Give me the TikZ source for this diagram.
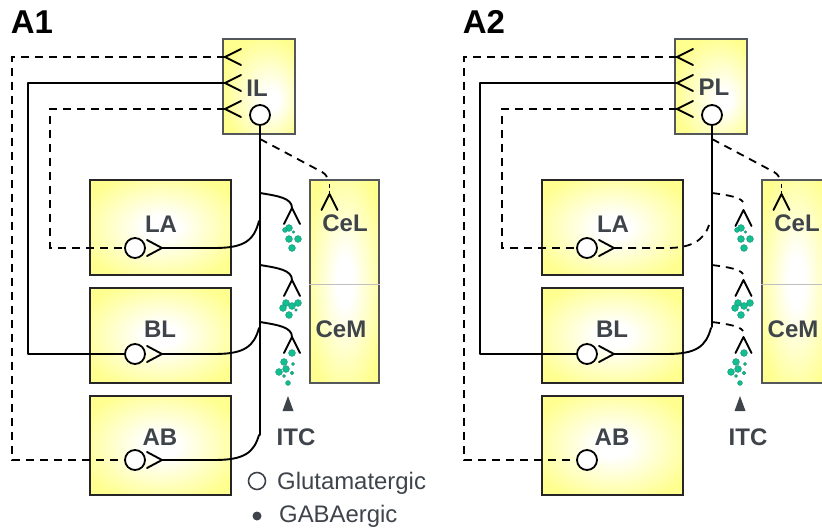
\documentclass[tikz,border=0pt]{standalone}
\usepackage{fontspec}
\setmainfont{Liberation Sans}
\definecolor{boxyel}{HTML}{FFFF8F}
\definecolor{labgray}{HTML}{3F444B}
\definecolor{edgegray}{HTML}{55585A}
\definecolor{dotfill}{HTML}{10C090}
\definecolor{dotedge}{HTML}{1A9078}
\pgfdeclareradialshading{boxglow}{\pgfpoint{0bp}{0bp}}{color(0bp)=(white); color(6bp)=(white); color(30bp)=(boxyel); color(50bp)=(boxyel)}
\pgfdeclareradialshading{boxglowoff}{\pgfpoint{10bp}{-8bp}}{color(0bp)=(white); color(5bp)=(white); color(30bp)=(boxyel); color(50bp)=(boxyel)}
\tikzset{
  axon/.style={line width=1.9pt,black,line cap=round,line join=round},
  dashaxon/.style={line width=1.8pt,black,dash pattern=on 8pt off 6pt},
  region/.style={draw=black!85,line width=1.9pt,shading=boxglow,inner sep=0pt},
  cortex/.style={draw=edgegray,line width=1.9pt,shading=boxglowoff,inner sep=0pt},
  cell/.style={circle,draw=black,line width=1.8pt,fill=white,minimum size=20pt,inner sep=0pt},
  lab/.style={text=labgray,font=\fontsize{24}{24}\selectfont\bfseries,inner sep=0pt},
  paneltitle/.style={text=black,font=\fontsize{33}{33}\selectfont\bfseries,inner sep=0pt},
  legend/.style={text=labgray,font=\fontsize{23.9}{24}\selectfont,inner sep=0pt,anchor=base west},
  forkleft/.pic={\draw[axon] (16,-8) -- (0,0) -- (16,8);},
  forkright/.pic={\draw[axon] (-15,-8) -- (0,0) -- (-15,8);},
  forkdown/.pic={\draw[axon] (-8,16) -- (0,0) -- (8,16);},
}
\newcommand{\tdots}[1]{\foreach \x/\y/\r in {#1}{\fill[dotfill,draw=dotedge,line width=.5pt] (\x,\y) circle (\r pt);}}
\newcommand{\panelbase}{%
  \node[region,minimum width=141pt,minimum height=95pt] (la) at (160.5,227.5) {};
  \node[region,minimum width=141pt,minimum height=95pt] (bl) at (160.5,335.5) {};
  \node[region,minimum width=141pt,minimum height=99pt] (ab) at (160.5,445.5) {};
  \node[cortex,minimum width=72pt,minimum height=95pt] (ctx) at (259,86.5) {};
  \node[cortex,minimum width=69pt,minimum height=203pt,shading=boxglow] (ce) at (344.5,281.5) {};
  \draw[draw=black!25,line width=.7pt] (ce.west |- 0,284) -- (ce.east |- 0,284);
  \node[cell] (lac) at (135,248) {};
  \node[cell] (blc) at (135,354) {};
  \node[cell] (abc) at (135,460) {};
  \node[cell] (ctxc) at (260,115) {};
  \coordinate (f1) at (225,57);
  \coordinate (f2) at (225,83);
  \coordinate (f3) at (225,109);
  \path (f1) pic {forkleft} (f2) pic {forkleft} (f3) pic {forkleft};
  \coordinate (ceapex) at (329.5,194);
  \path (ceapex) pic {forkdown};
  \draw[axon,line cap=butt] (329.5,184) -- (329.5,188) (329.5,191) -- (ceapex);
  \draw[dashaxon] (f1) -- (12,57) -- (12,460) -- (abc);
  \draw[axon] (f2) -- (28,83) -- (28,354) -- (blc);
  \draw[dashaxon] (f3) -- (50,109) -- (50,248) -- (lac);
  \draw[dashaxon] (260,139) -- (322,172) .. controls (325,174) and (326,175) .. (327,177);
  \tdots{289/228/3.4,285/230/2.4,293.5/232/1.2,289/239/3.4,298/239/3.4,292/248/3.4}
  \tdots{286/303/3.4,298/303/3.4,292/306/3.4,283/308/3.4,296/310/1.3,289/315/3.4}
  \tdots{292/353/3.4,284/362/3.4,293/364/1.6,286/369/3.4,279/372/3.4,292/373/1.8,284/376/1.5,288/383/2.4}
  \fill[labgray] (288,396) -- (293.5,411) -- (282.5,411) -- cycle;
  \node[lab] (lalab) at (161,224) {LA};
  \node[lab] (bllab) at (160,329) {BL};
  \node[lab] (ablab) at (160,437) {AB};
  \node[lab] (cellab) at (345,223) {CeL};
  \node[lab] (cemlab) at (341,329) {CeM};
  \node[lab] (itclab) at (296,437) {ITC};
}
\begin{document}
\begin{tikzpicture}[x=1pt,y=-1pt]
\useasboundingbox (0,0) rectangle (822,529);
\clip (0,0) rectangle (822,529);
% panel A1
\begin{scope}[name prefix=p-]
  \panelbase
  \node[paneltitle] (title) at (32,22) {A1};
  \node[lab] (ctxlab) at (257,88) {IL};
  \coordinate (tr1) at (292,208);
  \coordinate (tr2) at (292,280);
  \coordinate (tr3) at (292,337);
  \coordinate (lav) at (162,248);
  \coordinate (blv) at (162,354);
  \coordinate (abv) at (162,460);
  \path (lav) pic {forkright} (blv) pic {forkright} (abv) pic {forkright};
  \draw[axon] (ctxc) -- (260,435);
  \draw[axon] (260,193) .. controls (278,196) and (292,198) .. (tr1);
  \draw[axon] (260,265) .. controls (278,268) and (292,270) .. (tr2);
  \draw[axon] (260,322) .. controls (278,325) and (292,327) .. (tr3);
  \path (tr1) pic {forkdown} (tr2) pic {forkdown} (tr3) pic {forkdown};
  \draw[axon] (lav) -- (215,248) .. controls (245,248) and (254,240) .. (259,221);
  \draw[axon] (blv) -- (215,354) .. controls (245,354) and (254,346) .. (259,328);
  \draw[axon] (abv) -- (215,460) .. controls (245,460) and (254,452) .. (259,435);
  \node[circle,draw=labgray,line width=1.6pt,minimum size=17pt,inner sep=0pt] (legglu) at (257,481) {};
  \node[circle,fill=labgray,minimum size=9pt,inner sep=0pt] (leggaba) at (257,516) {};
  \node[legend] (legglutxt) at (277,489) {Glutamatergic};
  \node[legend] (leggabatxt) at (279,522) {GABAergic};
\end{scope}
% panel A2
\begin{scope}[xshift=452pt,name prefix=q-]
  \panelbase
  \node[paneltitle] (title) at (32,22) {A2};
  \node[lab] (ctxlab) at (262,87) {PL};
  \coordinate (tr1) at (291.5,210);
  \coordinate (tr2) at (291.5,280);
  \coordinate (tr3) at (291.5,337);
  \coordinate (lav) at (162,248);
  \coordinate (blv) at (162,354);
  \path (lav) pic {forkright} (blv) pic {forkright} (tr1) pic {forkdown} (tr2) pic {forkdown} (tr3) pic {forkdown};
  \draw[axon] (ctxc) -- (260,327);
  \draw[dashaxon] (260,193) .. controls (275,195) and (288,197) .. (291,202);
  \draw[dashaxon] (260,265) .. controls (275,267) and (288,269) .. (291,274);
  \draw[dashaxon] (260,322) .. controls (275,324) and (288,326) .. (291,331);
  \draw[dashaxon] (lav) -- (215,248) .. controls (240,248) and (252,240) .. (257,225);
  \draw[axon] (blv) -- (215,354) .. controls (245,354) and (254,346) .. (259,328);
\end{scope}
\end{tikzpicture}
\end{document}
